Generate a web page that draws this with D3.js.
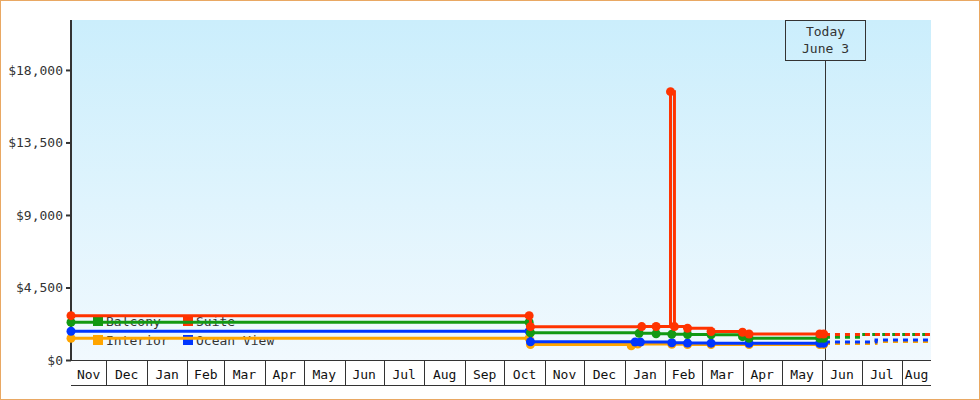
<!DOCTYPE html>
<html>
<head>
<meta charset="utf-8">
<script src="https://cdn.jsdelivr.net/npm/d3@7"></script>
<style>
  html, body { margin: 0; padding: 0; background: #ffffff; }
  svg { display: block; }
  text { font-family: "DejaVu Sans Mono", monospace; font-size: 13px; fill: #333; }
</style>
</head>
<body>
<script>
// ---------- DATA ----------
const seriesNames = ["Interior", "Ocean View", "Balcony", "Suite"];
const seriesColors = ["#ffa500", "#0036ff", "#139913", "#ff3300"];

const interiorDates  = ["2013-11-04","2014-10-20","2014-10-21","2015-01-06","2015-01-11","2015-02-06","2015-02-18","2015-03-08","2015-04-06","2015-05-30","2015-06-02"];
const interiorValues = [1347, 1347, 955, 880, 990, 975, 965, 962, 958, 958, 958];

const oceanDates  = ["2013-11-04","2014-10-20","2014-10-21","2015-01-09","2015-01-13","2015-02-06","2015-02-18","2015-03-08","2015-04-06","2015-05-30","2015-06-02"];
const oceanValues = [1781, 1781, 1136, 1120, 1110, 1070, 1050, 1045, 1036, 1036, 1036];

const balconyDates  = ["2013-11-04","2014-10-20","2014-10-21","2015-01-12","2015-01-25","2015-02-06","2015-02-18","2015-03-08","2015-04-01","2015-04-06","2015-05-30","2015-06-02"];
const balconyValues = [2340, 2340, 1694, 1660, 1630, 1600, 1580, 1560, 1450, 1347, 1347, 1347];

const suiteDates  = ["2013-11-04","2014-10-20","2014-10-21","2015-01-14","2015-01-25","2015-02-05","2015-02-08","2015-02-18","2015-03-08","2015-04-01","2015-04-06","2015-05-30","2015-06-02"];
const suiteValues = [2750, 2750, 2067, 2075, 2080, 16654, 2075, 1968, 1770, 1720, 1614, 1614, 1614];

// projections (dashed)
const interiorProjDates  = ["2015-06-03","2015-07-12","2015-08-23"];
const interiorProjValues = [1024, 1148, 1148];
const oceanProjDates  = ["2015-06-03","2015-07-12","2015-08-23"];
const oceanProjValues = [1117, 1241, 1241];
const balconyProjDates  = ["2015-06-03","2015-07-01","2015-08-23"];
const balconyProjValues = [1415, 1585, 1585];
const suiteProjDates  = ["2015-06-03","2015-08-23"];
const suiteProjValues = [1580, 1580];

const yTicks = [0, 4500, 9000, 13500, 18000];
const domainStart = "2013-11-04";
const domainEnd = "2015-08-23";
const todayDate = "2015-06-03";
const todayLabel = ["Today", "June 3"];
const legendItems = [["Balcony", 2], ["Suite", 3], ["Interior", 0], ["Ocean View", 1]];

// ---------- CHART ----------
const W = 980, H = 400;
const parse = d3.timeParse("%Y-%m-%d");
const pL = 71, pR = 931, pT = 20, pB = 360;

const x = d3.scaleTime().domain([parse(domainStart), parse(domainEnd)]).range([pL, pR]);
const y = d3.scaleLinear().domain([0, 21100]).range([pB, pT]);

const svg = d3.select("body").append("svg").attr("width", W).attr("height", H);

const defs = svg.append("defs");
const grad = defs.append("linearGradient").attr("id", "bg").attr("x1", 0).attr("y1", 0).attr("x2", 0).attr("y2", 1);
grad.append("stop").attr("offset", "0%").attr("stop-color", "#cbeefc");
grad.append("stop").attr("offset", "100%").attr("stop-color", "#f1f9fe");

// outer border
svg.append("rect").attr("x", 0.5).attr("y", 0.5).attr("width", W - 1).attr("height", H - 1)
  .attr("fill", "#fff").attr("stroke", "#e9a863").attr("stroke-width", 1);

// plot background
svg.append("rect").attr("x", pL).attr("y", pT).attr("width", pR - pL).attr("height", pB - pT)
  .attr("fill", "url(#bg)");

// month row
const months = d3.timeMonth.range(d3.timeMonth.floor(x.domain()[0]), x.domain()[1]);
const monthG = svg.append("g");
months.forEach(m => {
  const next = d3.timeMonth.offset(m, 1);
  const x0 = Math.max(x(m), pL), x1 = Math.min(x(next), pR);
  if (x(m) > pL) {
    monthG.append("line").attr("x1", Math.round(x(m)) + 0.5).attr("x2", Math.round(x(m)) + 0.5)
      .attr("y1", pB).attr("y2", 385).attr("stroke", "#333").attr("stroke-width", 1);
  }
  monthG.append("text").attr("x", (x0 + x1) / 2).attr("y", 379).attr("text-anchor", "middle")
    .style("fill", "#111").text(d3.timeFormat("%b")(m));
});
monthG.append("line").attr("x1", pL).attr("x2", pR).attr("y1", 385.5).attr("y2", 385.5)
  .attr("stroke", "#333").attr("stroke-width", 1);
monthG.append("line").attr("x1", pL).attr("x2", pR).attr("y1", pB + 0.5).attr("y2", pB + 0.5)
  .attr("stroke", "#333").attr("stroke-width", 1);

// y axis
const yAxis = d3.axisLeft(y).tickValues(yTicks).tickSize(5).tickPadding(3)
  .tickFormat(v => "$" + d3.format(",")(v));
const yg = svg.append("g").attr("transform", `translate(${pL},0)`).call(yAxis);
yg.select(".domain").attr("stroke", "#333").attr("stroke-width", 2).attr("d", `M0,${pT}V${pB + 1}`);
yg.selectAll(".tick line").attr("stroke", "#333").attr("stroke-width", 2);
yg.selectAll(".tick text").style("font-family", "'DejaVu Sans Mono', monospace").style("font-size", "13px").style("fill", "#333");

// today marker
const tx = Math.round(x(parse(todayDate))) + 0.5;
svg.append("line").attr("x1", tx).attr("x2", tx).attr("y1", 61).attr("y2", pB)
  .attr("stroke", "#333").attr("stroke-width", 1);
svg.append("rect").attr("x", tx - 40).attr("y", 20.5).attr("width", 80).attr("height", 40)
  .attr("fill", "none").attr("stroke", "#333").attr("stroke-width", 1);
todayLabel.forEach((t, i) => {
  svg.append("text").attr("x", tx).attr("y", 36 + i * 17).attr("text-anchor", "middle").text(t);
});

// legend
const lg = svg.append("g");
legendItems.forEach((it, i) => {
  const col = i % 2, row = Math.floor(i / 2);
  const lx = 93 + col * 90, ly = 316 + row * 19;
  lg.append("rect").attr("x", lx).attr("y", ly).attr("width", 10).attr("height", 10).attr("fill", seriesColors[it[1]]);
  lg.append("text").attr("x", lx + 13).attr("y", ly + 9.5).text(it[0]);
});

// lines
const actual = [
  [interiorDates, interiorValues],
  [oceanDates, oceanValues],
  [balconyDates, balconyValues],
  [suiteDates, suiteValues]
];
const proj = [
  [interiorProjDates, interiorProjValues],
  [oceanProjDates, oceanProjValues],
  [balconyProjDates, balconyProjValues],
  [suiteProjDates, suiteProjValues]
];

const line = d3.line().x(d => x(d[0])).y(d => y(d[1])).curve(d3.curveStepAfter);

proj.forEach((s, i) => {
  const pts = s[0].map((d, k) => [parse(d), s[1][k]]);
  svg.append("path").attr("d", line(pts)).attr("fill", "none").attr("stroke", seriesColors[i])
    .attr("stroke-width", 3).attr("stroke-dasharray", "5,5");
});

actual.forEach((s, i) => {
  const pts = s[0].map((d, k) => [parse(d), s[1][k]]);
  const g = svg.append("g");
  g.append("path").attr("d", line(pts)).attr("fill", "none").attr("stroke", seriesColors[i])
    .attr("stroke-width", 3).attr("stroke-linejoin", "miter");
  g.selectAll("circle").data(pts).join("circle")
    .attr("cx", d => x(d[0])).attr("cy", d => y(d[1])).attr("r", 4.5)
    .attr("fill", seriesColors[i]);
});
</script>
</body>
</html>
